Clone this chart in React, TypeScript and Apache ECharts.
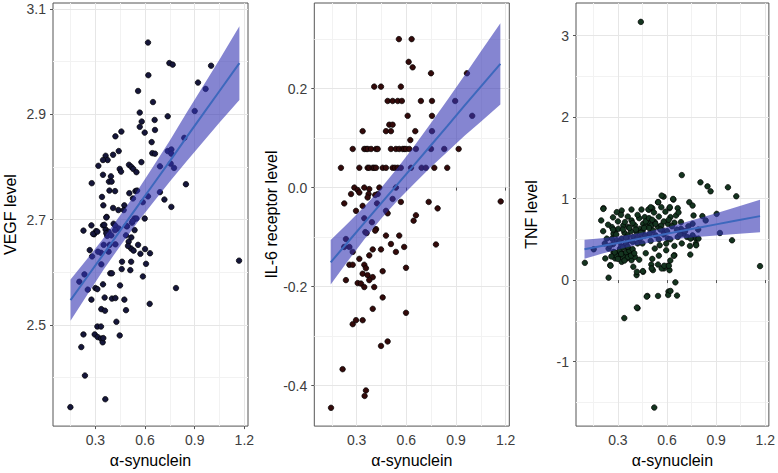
import React, { useEffect, useRef } from 'react';
import * as echarts from 'echarts';

const X_MAJOR = [0.3, 0.6, 0.9, 1.2];
const X_MINOR = [0.15, 0.45, 0.75, 1.05];
const X_TITLE = 'α-synuclein';

const vegfPoints = [
  [0.618, 3.036], [0.62, 2.974], [0.747, 2.997], [0.767, 2.994], [0.999, 2.992], [0.92, 2.96], [0.966, 2.948],
  [0.558, 2.944], [0.648, 2.923], [0.568, 2.903], [0.737, 2.896], [0.9, 2.906], [0.58, 2.886], [0.568, 2.876],
  [0.658, 2.889], [0.66, 2.87], [0.598, 2.865], [0.457, 2.867], [0.421, 2.858], [0.64, 2.847], [0.644, 2.826],
  [0.66, 2.825], [0.837, 2.855], [0.441, 2.83], [0.407, 2.823], [0.362, 2.821], [0.374, 2.813], [0.346, 2.813],
  [0.318, 2.802], [0.503, 2.804], [0.517, 2.8], [0.529, 2.796], [0.447, 2.796], [0.455, 2.791], [0.578, 2.809],
  [0.548, 2.79], [0.737, 2.83], [0.759, 2.833], [0.759, 2.825], [0.755, 2.806], [0.775, 2.798], [0.69, 2.801],
  [0.346, 2.785], [0.394, 2.782], [0.382, 2.772], [0.398, 2.772], [0.278, 2.769], [0.385, 2.755], [0.419, 2.754],
  [0.505, 2.75], [0.542, 2.754], [0.552, 2.755], [0.527, 2.74], [0.847, 2.767], [0.69, 2.752], [0.717, 2.738],
  [0.618, 2.744], [0.759, 2.724], [0.475, 2.727], [0.586, 2.733], [0.34, 2.743], [0.348, 2.727], [0.407, 2.722],
  [0.439, 2.718], [0.471, 2.718], [0.368, 2.705], [0.598, 2.702], [0.537, 2.702], [0.228, 2.679], [0.276, 2.689],
  [0.304, 2.678], [0.292, 2.672], [0.346, 2.689], [0.362, 2.681], [0.38, 2.677], [0.372, 2.669], [0.537, 2.68],
  [0.521, 2.694], [0.491, 2.687], [0.354, 2.69], [0.366, 2.704], [0.41, 2.692], [0.421, 2.688], [0.441, 2.683],
  [0.487, 2.688], [0.548, 2.702], [0.525, 2.697], [0.286, 2.673], [0.312, 2.677], [0.366, 2.674], [0.396, 2.67],
  [0.419, 2.68], [0.485, 2.67], [0.501, 2.658], [0.517, 2.666], [0.516, 2.645], [0.497, 2.65], [0.558, 2.652],
  [0.6, 2.644], [0.63, 2.636], [0.572, 2.635], [0.531, 2.641], [0.266, 2.642], [0.28, 2.63], [0.334, 2.637],
  [0.38, 2.639], [0.336, 2.615], [0.606, 2.616], [0.516, 2.62], [0.511, 2.604], [0.459, 2.606], [0.39, 2.598],
  [0.4, 2.598], [0.587, 2.592], [0.234, 2.596], [0.203, 2.582], [0.346, 2.577], [0.449, 2.575], [0.254, 2.567],
  [0.3, 2.57], [0.312, 2.568], [0.787, 2.57], [1.168, 2.622], [0.276, 2.548], [0.356, 2.552], [0.4, 2.55],
  [0.421, 2.551], [0.475, 2.548], [0.485, 2.528], [0.336, 2.53], [0.358, 2.527], [0.628, 2.54], [0.427, 2.506],
  [0.312, 2.497], [0.334, 2.497], [0.228, 2.482], [0.296, 2.482], [0.314, 2.477], [0.334, 2.474], [0.344, 2.467],
  [0.348, 2.475], [0.447, 2.48], [0.215, 2.458], [0.237, 2.404], [0.36, 2.359], [0.149, 2.344],
  [0.316, 2.639], [0.461, 2.62], [0.386, 2.652], [0.421, 2.653], [0.35, 2.652],
];

const il6Points = [
  [0.555, 0.3], [0.632, 0.3], [0.614, 0.254], [0.638, 0.243], [0.749, 0.231], [0.966, 0.231], [0.406, 0.204],
  [0.447, 0.204], [0.567, 0.204], [0.487, 0.175], [0.517, 0.175], [0.548, 0.175], [0.573, 0.175], [0.688, 0.175],
  [0.755, 0.175], [0.895, 0.175], [0.608, 0.145], [0.755, 0.145], [0.998, 0.145], [0.497, 0.127], [0.517, 0.127],
  [0.336, 0.114], [0.477, 0.114], [0.507, 0.114], [0.654, 0.114], [0.755, 0.114], [0.624, 0.096],
  [0.276, 0.078], [0.346, 0.078], [0.357, 0.078], [0.367, 0.078], [0.387, 0.078], [0.417, 0.078], [0.427, 0.078],
  [0.507, 0.078], [0.537, 0.078], [0.557, 0.078], [0.578, 0.078], [0.587, 0.078], [0.598, 0.078], [0.618, 0.078],
  [0.658, 0.078], [0.749, 0.078], [0.829, 0.078], [0.916, 0.078],
  [0.205, 0.04], [0.316, 0.04], [0.366, 0.04], [0.376, 0.04], [0.397, 0.04], [0.406, 0.04], [0.417, 0.04],
  [0.457, 0.04], [0.477, 0.04], [0.517, 0.04], [0.531, 0.04], [0.548, 0.04], [0.567, 0.04], [0.628, 0.04],
  [0.692, 0.04], [0.718, 0.04], [0.769, 0.04], [0.847, 0.04],
  [0.286, 0], [0.306, -0.005], [0.316, -0.01], [0.266, -0.013], [0.225, -0.032], [0.346, 0], [0.376, -0.003],
  [0.372, -0.013], [0.366, -0.02], [0.437, 0], [0.427, -0.013], [0.412, -0.015], [0.537, 0], [0.517, -0.023],
  [0.567, -0.029], [0.296, -0.047], [0.336, -0.037], [0.423, -0.032], [0.477, -0.047], [0.487, -0.052],
  [0.346, -0.062], [0.392, -0.07], [0.417, -0.084], [0.412, -0.087], [0.735, -0.029], [0.789, -0.042],
  [0.658, -0.056], [0.644, -0.067], [0.352, -0.09], [0.36, -0.092], [0.235, -0.104], [0.256, -0.12],
  [0.225, -0.12], [0.276, -0.13], [0.316, -0.144], [0.376, -0.137], [0.397, -0.125], [0.447, -0.125],
  [0.477, -0.097], [0.507, -0.114], [0.557, -0.097], [0.587, -0.12], [0.537, -0.13], [0.779, -0.115],
  [1.17, -0.028], [0.256, -0.156], [0.276, -0.156], [0.346, -0.156], [0.356, -0.163], [0.336, -0.174],
  [0.366, -0.177], [0.397, -0.181], [0.376, -0.187], [0.306, -0.193], [0.326, -0.194], [0.346, -0.201],
  [0.406, -0.201], [0.235, -0.187], [0.457, -0.169], [0.598, -0.162], [0.457, -0.222], [0.397, -0.245],
  [0.598, -0.253], [0.276, -0.276], [0.296, -0.268], [0.336, -0.268], [0.447, -0.32], [0.487, -0.311],
  [0.215, -0.367], [0.356, -0.41], [0.348, -0.421], [0.145, -0.445],
];

const tnfPoints = [
  [0.44, 3.17], [0.522, -1.565], [0.69, 1.289], [0.847, 1.151], [0.804, 1.2], [0.866, 1.09], [0.972, 1.139],
  [1.023, 1.029], [0.579, 1.024], [0.545, 0.956], [0.639, 0.988], [0.565, 0.895], [0.51, 0.883], [0.49, 0.866],
  [0.444, 0.866], [0.383, 0.866], [0.323, 0.854], [0.293, 0.834], [0.319, 0.801], [0.212, 0.883], [0.198, 0.732],
  [0.736, 0.956], [0.756, 0.915], [0.665, 0.883], [0.615, 0.883], [0.655, 0.793], [0.621, 0.773], [0.762, 0.793],
  [0.816, 0.785], [0.836, 0.732], [0.903, 0.813], [0.685, 0.712], [0.645, 0.704], [0.605, 0.691], [0.756, 0.691],
  [0.685, 0.63], [0.722, 0.529], [0.756, 0.549], [0.776, 0.509], [0.792, 0.509], [0.665, 0.529], [0.605, 0.509],
  [0.595, 0.448], [0.555, 0.427], [0.525, 0.387], [0.645, 0.419], [0.595, 0.366], [0.776, 0.448], [0.742, 0.313],
  [0.645, 0.305], [0.997, 0.488], [0.923, 0.578], [0.74, 0.419],
  [0.263, 0.651], [0.283, 0.61], [0.273, 0.57], [0.303, 0.63], [0.333, 0.671], [0.343, 0.712], [0.363, 0.651],
  [0.383, 0.732], [0.404, 0.671], [0.414, 0.59], [0.434, 0.63], [0.454, 0.691], [0.464, 0.773], [0.484, 0.712],
  [0.504, 0.671], [0.525, 0.712], [0.545, 0.651], [0.514, 0.61], [0.565, 0.671], [0.575, 0.61], [0.494, 0.57],
  [0.464, 0.549], [0.434, 0.509], [0.394, 0.529], [0.363, 0.488], [0.323, 0.509], [0.293, 0.488], [0.263, 0.509],
  [0.232, 0.509], [0.343, 0.427], [0.313, 0.387], [0.363, 0.387], [0.383, 0.346], [0.333, 0.326], [0.303, 0.285],
  [0.353, 0.265], [0.383, 0.244], [0.404, 0.285], [0.323, 0.224], [0.394, 0.163], [0.283, 0.265], [0.243, 0.387],
  [0.273, 0.346], [0.223, 0.265], [0.253, 0.183], [0.243, 0.029], [0.414, 0.061], [0.454, 0.102], [0.504, 0.191],
  [0.514, 0.122], [0.545, 0.191], [0.581, 0.143], [0.605, 0.176], [0.615, 0.122], [0.641, 0.298], [0.651, -0.028],
  [0.609, -0.141], [0.661, -0.19], [0.545, -0.195], [0.48, -0.195], [0.42, -0.345], [0.339, -0.467],
  [0.098, 0.212], [0.152, 0.378], [1.168, 0.171], [0.211, 0.874], [0.567, 1.037], [0.637, 0.996], [0.617, 0.895],
  [0.546, 0.956], [0.486, 0.866], [0.5, 0.895], [0.744, 0.509], [0.778, 0.427], [0.416, 0.102], [0.452, 0.11],
  [0.506, 0.143], [0.567, 0.143], [0.583, 0.176], [0.611, 0.176], [0.255, 0.176], [0.476, -0.203],
  [0.607, -0.183], [0.621, -0.134], [0.416, -0.337], [0.34, 0.58], [0.36, 0.55], [0.38, 0.6], [0.35, 0.45],
  [0.32, 0.41], [0.37, 0.31], [0.31, 0.33], [0.42, 0.45], [0.45, 0.6], [0.53, 0.55], [0.47, 0.66], [0.39, 0.7],
  [0.3, 0.72], [0.27, 0.44], [0.43, 0.76], [0.55, 0.78], [0.52, 0.83], [0.6, 0.6], [0.62, 0.5], [0.7, 0.57],
  [0.29, 0.3], [0.31, 0.36], [0.33, 0.29], [0.35, 0.34], [0.36, 0.28], [0.37, 0.36], [0.34, 0.24], [0.3, 0.26],
  [0.32, 0.32], [0.38, 0.3], [0.39, 0.38], [0.33, 0.4], [0.36, 0.41], [0.28, 0.34], [0.4, 0.33], [0.31, 0.47],
  [0.35, 0.52], [0.29, 0.56], [0.27, 0.62], [0.33, 0.62], [0.37, 0.64], [0.41, 0.62], [0.44, 0.58], [0.47, 0.72],
  [0.49, 0.76], [0.51, 0.74], [0.53, 0.69], [0.49, 0.64], [0.46, 0.64], [0.56, 0.62], [0.58, 0.72], [0.61, 0.74],
  [0.63, 0.66], [0.66, 0.62], [0.68, 0.56], [0.71, 0.6], [0.58, 0.56], [0.55, 0.5], [0.5, 0.48], [0.45, 0.45],
  [0.42, 0.52], [0.39, 0.47], [0.25, 0.42], [0.22, 0.45], [0.26, 0.29], [0.43, 0.25], [0.47, 0.33], [0.55, 0.3],
  [0.51, 0.26], [0.62, 0.24], [0.69, 0.45], [0.73, 0.66], [0.79, 0.62], [0.67, 0.83], [0.59, 0.84], [0.42, 0.8],
  [0.36, 0.78], [0.27, 0.77], [0.24, 0.68], [0.21, 0.6],
];

const vegfBandX = [0.15, 0.25, 0.35, 0.45, 0.55, 0.65, 0.75, 0.85, 0.95, 1.05, 1.17];
const vegfFit = [2.547, 2.591, 2.635, 2.679, 2.723, 2.767, 2.811, 2.856, 2.9, 2.944, 2.997];
const vegfLower = [2.508, 2.557, 2.605, 2.65, 2.693, 2.733, 2.772, 2.81, 2.847, 2.884, 2.927];
const vegfUpper = [2.586, 2.625, 2.665, 2.708, 2.753, 2.801, 2.85, 2.902, 2.953, 3.004, 3.067];

const il6BandX = [0.143, 0.25, 0.35, 0.45, 0.55, 0.65, 0.75, 0.85, 0.95, 1.05, 1.168];
const il6Fit = [-0.151, -0.109, -0.07, -0.031, 0.008, 0.047, 0.086, 0.125, 0.165, 0.204, 0.25];
const il6Lower = [-0.196, -0.147, -0.103, -0.062, -0.025, 0.009, 0.042, 0.073, 0.104, 0.133, 0.168];
const il6Upper = [-0.106, -0.071, -0.037, 0.0, 0.041, 0.085, 0.131, 0.178, 0.226, 0.275, 0.332];

const tnfBandX = [0.096, 0.2, 0.3, 0.4, 0.5, 0.6, 0.7, 0.8, 0.9, 1.0, 1.168];
const tnfFit = [0.378, 0.418, 0.456, 0.494, 0.532, 0.57, 0.608, 0.646, 0.684, 0.722, 0.785];
const tnfLower = [0.262, 0.322, 0.376, 0.423, 0.461, 0.49, 0.512, 0.531, 0.548, 0.563, 0.586];
const tnfUpper = [0.494, 0.514, 0.536, 0.565, 0.603, 0.65, 0.704, 0.761, 0.82, 0.881, 0.985];

const vegfYMajor = [2.5, 2.7, 2.9, 3.1];
const vegfYMinor = [2.4, 2.6, 2.8, 3.0];
const il6YMajor = [-0.4, -0.2, 0, 0.2];
const il6YMinor = [-0.3, -0.1, 0.1, 0.3];
const tnfYMajor = [-1, 0, 1, 2, 3];
const tnfYMinor = [-1.5, -0.5, 0.5, 1.5, 2.5];

const panels = [
  {
    title: 'VEGF level', points: vegfPoints, bandX: vegfBandX, fit: vegfFit, lower: vegfLower, upper: vegfUpper,
    yMajor: vegfYMajor, yMinor: vegfYMinor, yMin: 2.308, yMax: 3.111, digits: 1,
    left: 53, nameGap: 35, color: '#15163a',
  },
  {
    title: 'IL-6 receptor level', points: il6Points, bandX: il6BandX, fit: il6Fit, lower: il6Lower, upper: il6Upper,
    yMajor: il6YMajor, yMinor: il6YMinor, yMin: -0.482, yMax: 0.373, digits: 1,
    left: 314.3, nameGap: 35, color: '#330a0a',
  },
  {
    title: 'TNF level', points: tnfPoints, bandX: tnfBandX, fit: tnfFit, lower: tnfLower, upper: tnfUpper,
    yMajor: tnfYMajor, yMinor: tnfYMinor, yMin: -1.793, yMax: 3.402, digits: 0,
    left: 576, nameGap: 37, color: '#14341f',
  },
];

const FONT = "'Liberation Sans', Arial, Helvetica, sans-serif";
const MAJOR_GRID = '#e6e6e6';
const MINOR_GRID = '#f2f2f2';
const BORDER = '#555555';
const TICK_TEXT = '#3d3d3d';
const BAND_FILL = 'rgba(51,51,178,0.6)';
const LINE_COLOR = '#3d68bd';

export default function App() {
  const ref = useRef<HTMLDivElement>(null);
  useEffect(() => {
    if (!ref.current) return;
    const chart = echarts.init(ref.current, null, { renderer: 'svg' });
    const X_MIN = 0.044;
    const X_MAX = 1.222;
    const grid: any[] = [];
    const xAxis: any[] = [];
    const yAxis: any[] = [];
    const series: any[] = [];
    panels.forEach((p, i) => {
      grid.push({
        left: p.left, top: 3, width: 195, height: 426, show: true,
        borderColor: BORDER, borderWidth: 1, backgroundColor: '#fff',
      });
      xAxis.push({
        type: 'value', gridIndex: i, min: X_MIN, max: X_MAX,
        name: X_TITLE, nameLocation: 'middle', nameGap: 25,
        nameTextStyle: { fontFamily: FONT, fontSize: 16, color: '#000' },
        axisLine: { show: false },
        axisTick: { show: true, length: 3, customValues: X_MAJOR, lineStyle: { color: BORDER } },
        axisLabel: {
          customValues: X_MAJOR, margin: 7, fontFamily: FONT, fontSize: 14, color: TICK_TEXT,
          formatter: (v: number) => v.toFixed(1),
        },
        splitLine: { show: true, lineStyle: { color: MAJOR_GRID, width: 1 } },
        z: 2,
      });
      xAxis.push({
        type: 'value', gridIndex: i, min: X_MIN, max: X_MAX, position: 'bottom',
        axisLine: { show: false },
        axisTick: { show: false, customValues: X_MINOR },
        axisLabel: { show: false },
        splitLine: { show: true, lineStyle: { color: MINOR_GRID, width: 1 } },
        z: 1,
      });
      yAxis.push({
        type: 'value', gridIndex: i, min: p.yMin, max: p.yMax,
        name: p.title, nameLocation: 'middle', nameGap: p.nameGap, nameRotate: 90,
        nameTextStyle: { fontFamily: FONT, fontSize: 16, color: '#000' },
        axisLine: { show: false },
        axisTick: { show: true, length: 3, customValues: p.yMajor, lineStyle: { color: BORDER } },
        axisLabel: {
          customValues: p.yMajor, margin: 7, fontFamily: FONT, fontSize: 14, color: TICK_TEXT,
          formatter: (v: number) => v.toFixed(p.digits),
        },
        splitLine: { show: true, lineStyle: { color: MAJOR_GRID, width: 1 } },
        z: 2,
      });
      yAxis.push({
        type: 'value', gridIndex: i, min: p.yMin, max: p.yMax, position: 'left',
        axisLine: { show: false },
        axisTick: { show: false, customValues: p.yMinor },
        axisLabel: { show: false },
        splitLine: { show: true, lineStyle: { color: MINOR_GRID, width: 1 } },
        z: 1,
      });
      series.push({
        type: 'scatter', xAxisIndex: 2 * i, yAxisIndex: 2 * i, data: p.points,
        symbolSize: 5.5,
        itemStyle: { color: p.color, borderColor: '#000', borderWidth: 0.7, opacity: 1 },
        z: 3,
      });
      series.push({
        type: 'custom', xAxisIndex: 2 * i, yAxisIndex: 2 * i,
        data: p.bandX.map((x, k) => [x, p.lower[k], p.upper[k]]),
        encode: { x: 0, y: [1, 2] },
        renderItem: (params: any, api: any) => {
          if (params.dataIndex !== 0) return null;
          const pts: number[][] = [];
          for (let k = 0; k < p.bandX.length; k++) pts.push(api.coord([p.bandX[k], p.upper[k]]));
          for (let k = p.bandX.length - 1; k >= 0; k--) pts.push(api.coord([p.bandX[k], p.lower[k]]));
          return { type: 'polygon', shape: { points: pts }, style: { fill: BAND_FILL } };
        },
        silent: true,
        z: 4,
      });
      series.push({
        type: 'line', xAxisIndex: 2 * i, yAxisIndex: 2 * i,
        data: p.bandX.map((x, k) => [x, p.fit[k]]),
        showSymbol: false, symbol: 'none',
        lineStyle: { color: LINE_COLOR, width: 2 },
        z: 5,
      });
    });
    chart.setOption({
      animation: false,
      backgroundColor: '#fff',
      grid, xAxis, yAxis, series,
    });
    return () => chart.dispose();
  }, []);
  return (
    <div
      ref={ref}
      style={{ position: 'fixed', left: 0, top: 0, width: 778, height: 473, background: '#fff' }}
    />
  );
}
